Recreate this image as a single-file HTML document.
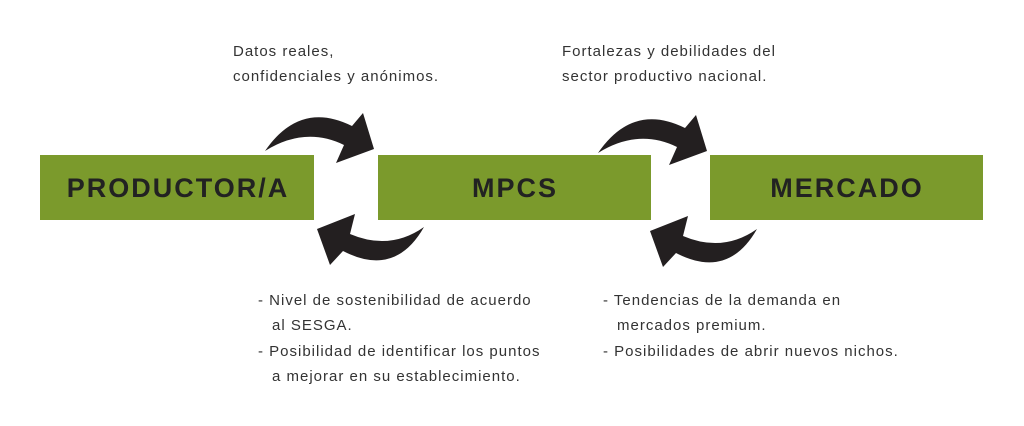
<!DOCTYPE html>
<html><head><style>
body{margin:0;width:1024px;height:426px;background:#fff;overflow:hidden;font-family:"Liberation Sans",sans-serif}
</style></head><body>
<svg width="1024" height="426" xmlns="http://www.w3.org/2000/svg" style="position:absolute;left:0;top:0">
<g fill="#7b9a2c">
<rect x="40" y="155" width="274" height="65"/>
<rect x="378" y="155" width="273" height="65"/>
<rect x="710" y="155" width="273" height="65"/>
</g>
<g font-family="Liberation Sans, sans-serif" font-weight="bold" font-size="27" fill="#222" text-anchor="middle" letter-spacing="2">
<text x="178" y="197">PRODUCTOR/A</text>
<text x="515" y="197">MPCS</text>
<text x="847" y="197">MERCADO</text>
</g>
<g fill="#231f20">
<path d="M265,151 Q300,100 352,126 L363,113 L374,149 L336,163 L344,145 Q305,126 265,151 Z"/>
<path d="M424,227 Q395,278 343,251 L330,265 L317,229 L355,214 L350,234 Q390,251 424,227 Z"/>
</g>
<g fill="#231f20" transform="translate(333,2)">
<path d="M265,151 Q300,100 352,126 L363,113 L374,149 L336,163 L344,145 Q305,126 265,151 Z"/>
<path d="M424,227 Q395,278 343,251 L330,265 L317,229 L355,214 L350,234 Q390,251 424,227 Z"/>
</g>
<g font-family="Liberation Sans, sans-serif" font-size="15" fill="#333" letter-spacing="1">
<text x="233" y="56">Datos reales,</text>
<text x="233" y="81">confidenciales y anónimos.</text>
<text x="562" y="56">Fortalezas y debilidades del</text>
<text x="562" y="81">sector productivo nacional.</text>
<text x="258" y="305">- Nivel de sostenibilidad de acuerdo</text>
<text x="272" y="330">al SESGA.</text>
<text x="258" y="356">- Posibilidad de identificar los puntos</text>
<text x="272" y="381">a mejorar en su establecimiento.</text>
<text x="603" y="305">- Tendencias de la demanda en</text>
<text x="617" y="330">mercados premium.</text>
<text x="603" y="356">- Posibilidades de abrir nuevos nichos.</text>
</g>
</svg>
</body></html>
